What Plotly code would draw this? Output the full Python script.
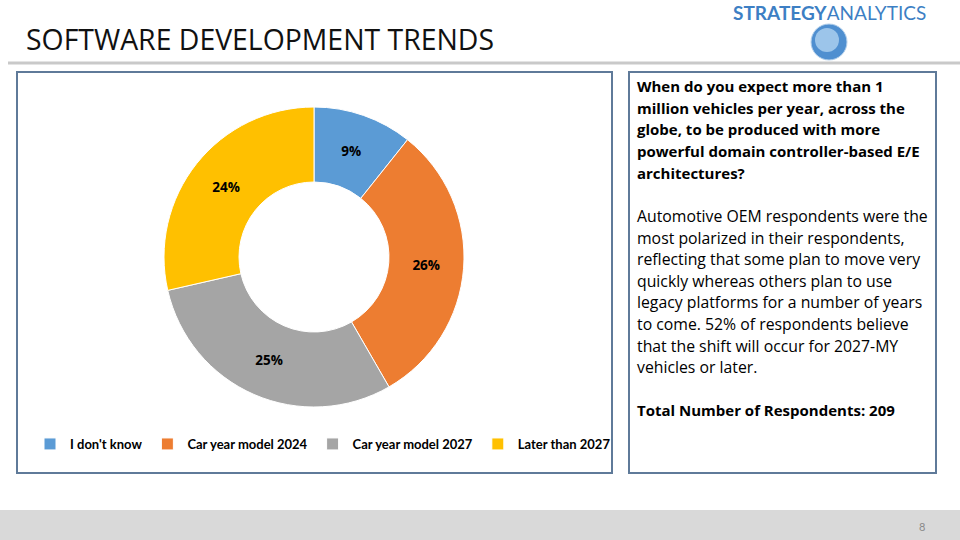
import plotly.graph_objects as go

# ---- data ----
categories = ["I don't know", "Car year model 2024", "Car year model 2027", "Later than 2027"]
values = [9, 26, 25, 24]
colors = ["#5B9BD5", "#ED7D31", "#A5A5A5", "#FFC000"]

title_text = "SOFTWARE DEVELOPMENT TRENDS"
question_lines = [
    "When do you expect more than 1",
    "million vehicles per year, across the",
    "globe, to be produced with more",
    "powerful domain controller-based E/E",
    "architectures?",
]
body_lines = [
    "Automotive OEM respondents were the",
    "most polarized in their respondents,",
    "reflecting that some plan to move very",
    "quickly whereas others plan to use",
    "legacy platforms for a number of years",
    "to come. 52% of respondents believe",
    "that the shift will occur for 2027-MY",
    "vehicles or later.",
]
total_line = "Total Number of Respondents: 209"
page_number = "8"

W, H = 960, 540
FONT = "Lato"
TEXT_FONT = "Open Sans"


def px(x):
    return x / W


def py(y):
    return 1 - y / H


fig = go.Figure()
fig.add_trace(go.Pie(
    labels=categories,
    values=values,
    marker=dict(colors=colors, line=dict(color="white", width=1)),
    hole=0.5,
    sort=False,
    direction="clockwise",
    rotation=0,
    texttemplate="<b>%{value}%</b>",
    textposition="inside",
    insidetextorientation="horizontal",
    insidetextfont=dict(color="black", size=13.5, family=TEXT_FONT),
    domain=dict(x=[px(164), px(464)], y=[py(407), py(107)]),
    hoverinfo="label+value",
))

shapes = []
annotations = []

# header shadow line
shapes.append(dict(type="line", xref="paper", yref="paper", x0=px(8), x1=1, y0=py(63), y1=py(63),
                   line=dict(color="#c9c9c9", width=3)))
# footer band
shapes.append(dict(type="rect", xref="paper", yref="paper", x0=0, x1=1, y0=0, y1=py(510),
                   fillcolor="#d9d9d9", line=dict(width=0), layer="below"))
# boxes
box_line = dict(color="#5f7a99", width=2)
shapes.append(dict(type="rect", xref="paper", yref="paper", x0=px(17), x1=px(612), y0=py(473), y1=py(72),
                   line=box_line, layer="below"))
shapes.append(dict(type="rect", xref="paper", yref="paper", x0=px(629), x1=px(936), y0=py(473), y1=py(72),
                   line=box_line, layer="below"))
# globe
shapes.append(dict(type="circle", xref="paper", yref="paper", x0=px(811), x1=px(847), y0=py(60), y1=py(24),
                   fillcolor="#4f8fd0", line=dict(color="#b7d2ec", width=1)))
shapes.append(dict(type="circle", xref="paper", yref="paper", x0=px(815), x1=px(839), y0=py(52), y1=py(28),
                   fillcolor="#9cc5ea", line=dict(width=0)))

# title
annotations.append(dict(text=title_text, x=px(24), y=py(39), xref="paper", yref="paper",
                        xanchor="left", yanchor="middle", showarrow=False,
                        font=dict(family=TEXT_FONT, size=28.4, color="#111111")))
# logo
annotations.append(dict(text="<b>STRATEGY</b>ANALYTICS", x=px(829), y=py(13), xref="paper", yref="paper",
                        xanchor="center", yanchor="middle", showarrow=False,
                        font=dict(family=FONT, size=19, color="#3d7fc4")))

# right box text
for i, line in enumerate(question_lines):
    annotations.append(dict(text="<b>" + line + "</b>", x=px(635), y=py(86 + i * 21.7), xref="paper", yref="paper",
                            xanchor="left", yanchor="middle", showarrow=False,
                            font=dict(family=TEXT_FONT, size=15, color="black")))
for i, line in enumerate(body_lines):
    annotations.append(dict(text=line, x=px(635), y=py(216 + i * 21.6), xref="paper", yref="paper",
                            xanchor="left", yanchor="middle", showarrow=False,
                            font=dict(family=TEXT_FONT, size=15.8, color="black")))
annotations.append(dict(text="<b>" + total_line + "</b>", x=px(635), y=py(410), xref="paper", yref="paper",
                        xanchor="left", yanchor="middle", showarrow=False,
                        font=dict(family=TEXT_FONT, size=15, color="black")))
# page number
annotations.append(dict(text=page_number, x=px(922), y=py(526), xref="paper", yref="paper",
                        xanchor="center", yanchor="middle", showarrow=False,
                        font=dict(family=FONT, size=11, color="#8a8a8a")))

fig.update_layout(
    width=W, height=H,
    margin=dict(l=0, r=0, t=0, b=0),
    paper_bgcolor="white",
    plot_bgcolor="white",
    shapes=shapes,
    annotations=annotations,
    showlegend=True,
    legend=dict(orientation="h", x=px(30), y=py(444), xanchor="left", yanchor="middle",
                font=dict(family=FONT, size=13, color="black", weight="bold"),
                itemwidth=30, tracegroupgap=0, bgcolor="rgba(0,0,0,0)"),
)

fig.write_html("out.html", config={"displayModeBar": False},
               post_script="document.body.style.margin='0px';document.body.style.overflow='hidden';")
